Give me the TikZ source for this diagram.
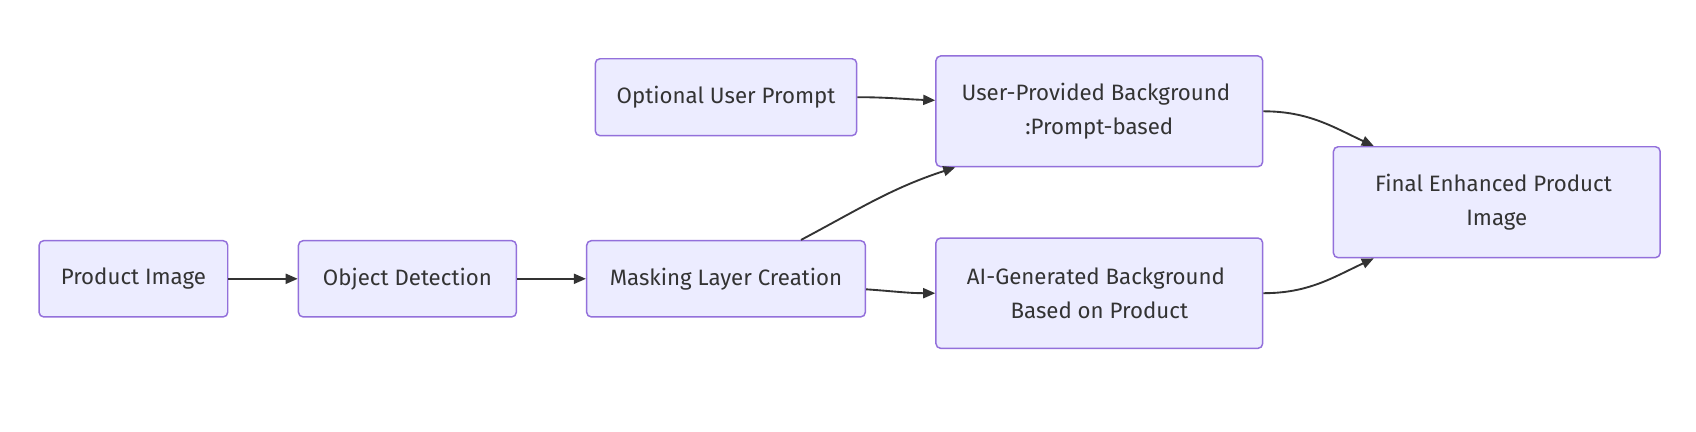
\documentclass[tikz,border=0pt]{standalone}
\usepackage{fontspec}
\setmainfont{Fira Sans}
\usetikzlibrary{arrows.meta,calc}
\definecolor{nodefill}{HTML}{ECECFF}
\definecolor{nodeline}{HTML}{9370DB}
\definecolor{edgecol}{HTML}{333333}
\begin{document}
\begin{tikzpicture}[x=0.75pt,y=-0.75pt,
  box/.style={draw=nodeline,fill=nodefill,line width=1.1pt,rounded corners=3.5pt,
    inner sep=0pt,align=center,text=edgecol,
    font=\fontsize{16.7}{25.5}\selectfont},
  edge/.style={draw=edgecol,line width=1.4pt,-{Triangle[length=9pt,width=7.5pt]}}]
\useasboundingbox[fill=white] (0,0) rectangle (1696,432);
\node[box,minimum width=141.5pt,minimum height=57.2pt] (prod) at (133.4,278.8) {Product Image};
\node[box,minimum width=163.4pt,minimum height=57.2pt] (obj) at (407.4,278.8) {Object Detection};
\node[box,minimum width=209pt,minimum height=57.2pt] (mask) at (726,278.8) {Masking Layer Creation};
\node[box,minimum width=196pt,minimum height=57.7pt] (opt) at (726,97.2) {Optional User Prompt};
\node[box,minimum width=245pt,minimum height=83pt] (user) at (1099.3,111.3) {User-Provided Background\hspace*{0.3em}\\:Prompt-based};
\node[box,minimum width=245pt,minimum height=82.7pt] (ai) at (1099.3,293.2) {AI-Generated Background\hspace*{0.3em}\\Based on Product};
\node[box,minimum width=245pt,minimum height=83.2pt] (fin) at (1496.8,202.2) {Final Enhanced Product\hspace*{0.3em}\\Image};
\draw[edge] (prod.east) -- (obj.west);
\draw[edge] (obj.east) -- (mask.west);
\draw[edge] (opt.east) to[out=0,in=178] ($(user.west)+(0,-11)$);
\draw[edge] ($(mask.north)+(75,0)$) to[out=28,in=198] ($(user.south west)+(20,0)$);
\draw[edge] ($(mask.east)+(0,10.5)$) to[out=-4,in=180] ($(ai.west)$);
\draw[edge] (user.east) to[out=0,in=155] ($(fin.north west)+(41,0)$);
\draw[edge] (ai.east) to[out=0,in=205] ($(fin.south west)+(41,0)$);
\end{tikzpicture}
\end{document}
